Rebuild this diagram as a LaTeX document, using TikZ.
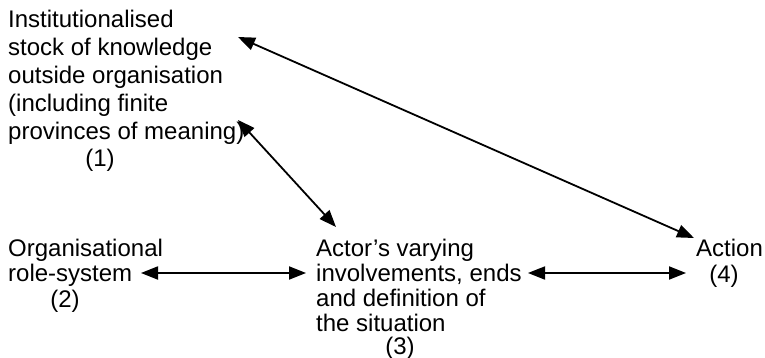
\documentclass[tikz,border=0pt]{standalone}
\usepackage{fontspec}
\setmainfont{Liberation Sans}
\usetikzlibrary{arrows.meta}
\begin{document}
\begin{tikzpicture}[x=1pt,y=-1pt,
  label text/.style={anchor=north west,inner sep=0pt,align=left,
    font=\fontsize{24}{28}\selectfont},
  tight text/.style={label text,font=\fontsize{24}{25}\selectfont},
  num text/.style={anchor=base,inner sep=0pt,
    font=\fontsize{24}{28}\selectfont},
  link/.style={line width=1.8pt,{Triangle[length=17pt,width=13pt]}-{Triangle[length=17pt,width=13pt]}}]
\useasboundingbox (0,0) rectangle (765,358);

% text blocks
\node[label text] (stock) at (8,10)
  {Institutionalised\\stock of knowledge\\outside organisation\\(including finite\\provinces of meaning)};
\node[num text] (n1) at (100,167) {(1)};

\node[tight text] (role) at (8,239) {Organisational\\role-system};
\node[num text] (n2) at (65,307) {(2)};

\node[tight text] (actor) at (316,239)
  {Actor's varying\\involvements, ends\\and definition of\\the situation};
\node[num text] (n3) at (400,354) {(3)};

\node[label text] (action) at (696,239) {Action};
\node[num text] (n4) at (724,282) {(4)};

% connector end points
\coordinate (stock-a) at (238,37);
\coordinate (stock-b) at (238,120);
\coordinate (role-r) at (141,273);
\coordinate (actor-t) at (336,227);
\coordinate (actor-l) at (306,273);
\coordinate (actor-r) at (528,273);
\coordinate (action-t) at (694,238);
\coordinate (action-l) at (686,273);

% connectors
\draw[link] (stock-a) -- (action-t);
\draw[link] (stock-b) -- (actor-t);
\draw[link] (role-r) -- (actor-l);
\draw[link] (actor-r) -- (action-l);
\end{tikzpicture}
\end{document}
